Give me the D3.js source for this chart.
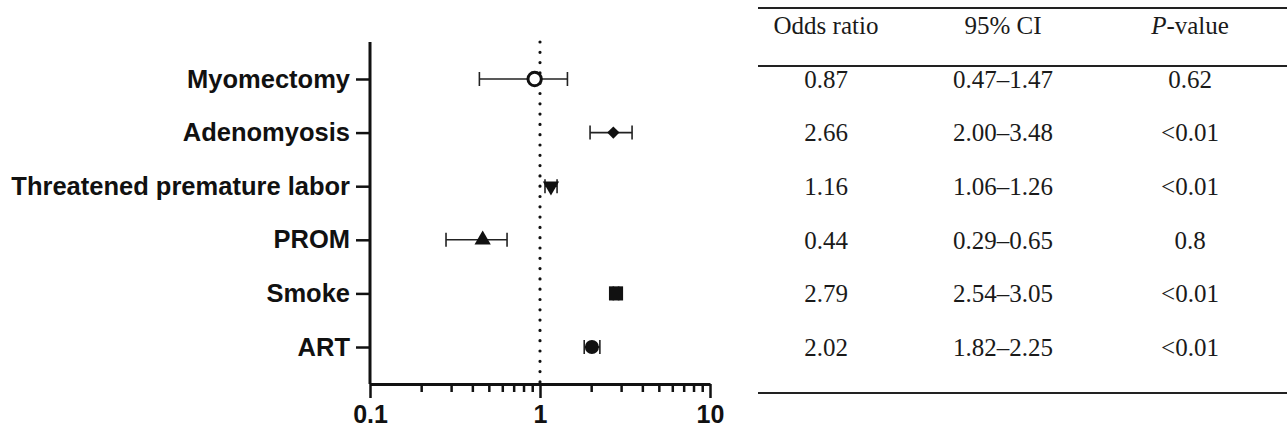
<!DOCTYPE html>
<meta charset="utf-8">
<title>Forest plot</title>
<style>
    body {
        margin: 0;
        background: #fff;
    }
    .axis path, .axis line {
        stroke: #111;
    }
    .axis text {
        font-family: "Liberation Sans", Arial, sans-serif;
        font-weight: bold;
        fill: #111;
    }
    .tbl text {
        font-family: "Liberation Serif", "Times New Roman", serif;
        font-size: 25px;
        fill: #1a1a1a;
    }
</style>

<body>
    <script src="https://d3js.org/d3.v7.min.js"></script>
    <script>
        /* Risk factors (top to bottom) */
        var factors = ["Myomectomy", "Adenomyosis", "Threatened premature labor", "PROM", "Smoke", "ART"];

        var orPlot = [0.93, 2.70, 1.16, 0.46, 2.80, 2.02];
        var loPlot = [0.44, 1.97, 1.07, 0.28, 2.70, 1.82];
        var hiPlot = [1.45, 3.48, 1.26, 0.64, 2.90, 2.25];
        var markers = ["openCircle", "diamond", "triangleDown", "triangle", "square", "circle"];

        /* Table columns */
        var orText = ["0.87", "2.66", "1.16", "0.44", "2.79", "2.02"];
        var ciText = ["0.47\u20131.47", "2.00\u20133.48", "1.06\u20131.26", "0.29\u20130.65", "2.54\u20133.05", "1.82\u20132.25"];
        var pText = ["0.62", "<0.01", "<0.01", "0.8", "<0.01", "<0.01"];

        var xTicks = [0.1, 1, 10];
        var xMinor = [0.2, 0.3, 0.4, 0.5, 0.6, 0.7, 0.8, 0.9, 2, 3, 4, 5, 6, 7, 8, 9];

        var width = 1287,
            height = 434;

        var svg = d3.select("body").append("svg")
            .attr("width", width)
            .attr("height", height);

        var x = d3.scaleLog()
            .domain([0.1, 10])
            .range([370, 710]);

        var y = d3.scalePoint()
            .domain(factors)
            .range([42, 384])
            .padding(0.69);

        /* x axis: minor ticks, then major ticks with labels */
        var xMinorAxis = svg.append("g")
            .attr("class", "axis")
            .attr("transform", "translate(0,384)")
            .call(d3.axisBottom(x).tickValues(xMinor).tickSize(8).tickSizeOuter(0).tickFormat(""));
        xMinorAxis.select(".domain").remove();
        xMinorAxis.selectAll("line").attr("stroke-width", 2.5);

        var xAxis = svg.append("g")
            .attr("class", "axis")
            .attr("transform", "translate(0,384)")
            .call(d3.axisBottom(x).tickValues(xTicks).tickSize(14).tickSizeOuter(0)
                .tickPadding(7).tickFormat(d3.format("")));
        xAxis.select(".domain").attr("stroke-width", 3);
        xAxis.selectAll("line").attr("stroke-width", 2.5);
        xAxis.selectAll("text").attr("font-size", 25);

        /* y axis */
        var yAxis = svg.append("g")
            .attr("class", "axis")
            .attr("transform", "translate(370,0)")
            .call(d3.axisLeft(y).tickSize(14).tickSizeOuter(0).tickPadding(6));
        yAxis.select(".domain").attr("stroke-width", 3)
            .attr("d", "M0,42V384");
        yAxis.selectAll("line").attr("stroke-width", 2.5);
        yAxis.selectAll("text").attr("font-size", 25.5);

        /* reference line at OR = 1 */
        svg.append("line")
            .attr("x1", x(1))
            .attr("x2", x(1))
            .attr("y1", 42)
            .attr("y2", 384)
            .attr("stroke", "#111")
            .attr("stroke-width", 3.2)
            .attr("stroke-linecap", "round")
            .attr("stroke-dasharray", "0,10.3");

        /* error bars */
        var bars = svg.append("g").selectAll("g")
            .data(factors)
            .enter()
            .append("g")
            .attr("stroke", "#222")
            .attr("stroke-width", 1.6);

        bars.append("line")
            .attr("x1", (d, i) => x(loPlot[i]))
            .attr("x2", (d, i) => x(hiPlot[i]))
            .attr("y1", d => y(d))
            .attr("y2", d => y(d));
        bars.append("line")
            .attr("x1", (d, i) => x(loPlot[i]))
            .attr("x2", (d, i) => x(loPlot[i]))
            .attr("y1", d => y(d) - 7)
            .attr("y2", d => y(d) + 7);
        bars.append("line")
            .attr("x1", (d, i) => x(hiPlot[i]))
            .attr("x2", (d, i) => x(hiPlot[i]))
            .attr("y1", d => y(d) - 7)
            .attr("y2", d => y(d) + 7);

        /* markers */
        function symbolFor(m) {
            if (m == "openCircle") return d3.symbol(d3.symbolCircle, 140)();
            if (m == "diamond") return d3.symbol(d3.symbolSquare, 76)();
            if (m == "triangle" || m == "triangleDown") return d3.symbol(d3.symbolTriangle, 115)();
            if (m == "square") return d3.symbol(d3.symbolSquare, 200)();
            return d3.symbol(d3.symbolCircle, 155)();
        }

        function rotationFor(m) {
            if (m == "triangleDown") return " rotate(180)";
            if (m == "diamond") return " rotate(45)";
            return "";
        }

        svg.append("g").selectAll("path")
            .data(factors)
            .enter()
            .append("path")
            .attr("d", (d, i) => symbolFor(markers[i]))
            .attr("transform", (d, i) => "translate(" + x(orPlot[i]) + "," + y(d) + ")" + rotationFor(markers[i]))
            .attr("fill", (d, i) => markers[i] == "openCircle" ? "#fff" : "#111")
            .attr("stroke", "#111")
            .attr("stroke-width", (d, i) => markers[i] == "openCircle" ? 3 : 0);

        /* table */
        var tbl = svg.append("g").attr("class", "tbl");
        var colX = [826, 1003, 1190];

        [8, 66, 393].forEach(function (ly) {
            tbl.append("line")
                .attr("x1", 758)
                .attr("x2", width)
                .attr("y1", ly)
                .attr("y2", ly)
                .attr("stroke", "#222")
                .attr("stroke-width", 1.8);
        });

        tbl.append("text").attr("x", colX[0]).attr("y", 25).attr("dy", "0.35em")
            .attr("text-anchor", "middle").text("Odds ratio");
        tbl.append("text").attr("x", colX[1]).attr("y", 25).attr("dy", "0.35em")
            .attr("text-anchor", "middle").text("95% CI");
        var ph = tbl.append("text").attr("x", colX[2]).attr("y", 25).attr("dy", "0.35em")
            .attr("text-anchor", "middle");
        ph.append("tspan").attr("font-style", "italic").text("P");
        ph.append("tspan").text("-value");

        [orText, ciText, pText].forEach(function (col, c) {
            tbl.selectAll(null)
                .data(factors)
                .enter()
                .append("text")
                .attr("x", colX[c])
                .attr("y", d => y(d))
                .attr("dy", "0.35em")
                .attr("text-anchor", "middle")
                .text((d, i) => col[i]);
        });
    </script>
</body>
